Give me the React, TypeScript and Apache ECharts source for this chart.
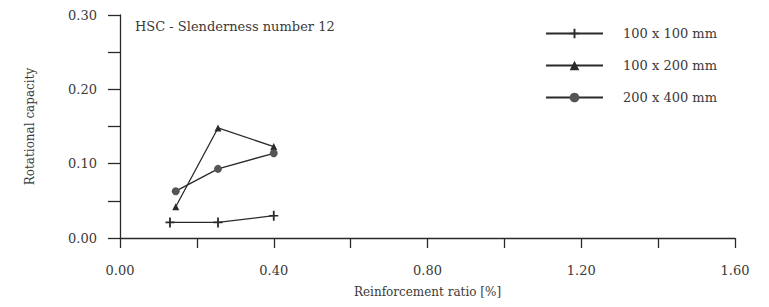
import React, { useEffect, useRef } from "react";
import * as echarts from "echarts";

const seriesNames = ["100 x 100 mm", "100 x 200 mm", "200 x 400 mm"];
const ratio100x100 = [0.13, 0.255, 0.4];
const cap100x100 = [0.021, 0.021, 0.03];
const ratio100x200 = [0.145, 0.255, 0.4];
const cap100x200 = [0.042, 0.148, 0.123];
const ratio200x400 = [0.145, 0.255, 0.4];
const cap200x400 = [0.063, 0.093, 0.114];
const chartTitle = "HSC - Slenderness number 12";
const xAxisName = "Reinforcement ratio [%]";
const yAxisName = "Rotational capacity";

const FONT = "DejaVu Serif";
const INK = "#2a2a2a";
const TXT = "#3a3a3a";
const plusPath = "path://M3.6,0h1.8v10h-1.8zM0,4.2h9v1.6h-9z";

export default function App() {
  const ref = useRef<HTMLDivElement>(null);
  useEffect(() => {
    if (!ref.current) return;
    const chart = echarts.init(ref.current, undefined, { renderer: "svg" });
    const pairs = (xs: number[], ys: number[]) => xs.map((x, i) => [x, ys[i]]);
    const lineStyle = { color: INK, width: 1.3 };
    chart.setOption({
      animation: false,
      backgroundColor: "#ffffff",
      grid: { left: 120, right: 34, top: 15, bottom: 69, containLabel: false, outerBoundsMode: "none" },
      graphic: [
        {
          type: "text",
          left: 135,
          top: 20,
          style: { text: chartTitle, fill: TXT, font: `13px '${FONT}'` },
        },
      ],
      legend: {
        orient: "vertical",
        left: 545,
        top: 27,
        padding: 0,
        itemWidth: 57,
        itemHeight: 12,
        itemGap: 19,
        data: seriesNames,
        textStyle: { fontFamily: FONT, fontSize: 13, color: TXT, padding: [0, 0, 0, 15] },
      },
      xAxis: {
        type: "value",
        min: 0,
        max: 1.6,
        interval: 0.2,
        name: xAxisName,
        nameLocation: "middle",
        nameGap: 48,
        nameTextStyle: { fontFamily: FONT, fontSize: 12, color: TXT },
        axisLine: { lineStyle: { color: INK, width: 1.3 } },
        axisTick: { length: 10, lineStyle: { color: INK, width: 1.3 } },
        axisLabel: {
          margin: 26,
          fontFamily: FONT,
          fontSize: 13,
          color: TXT,
          formatter: (v: number) => (Math.round(v * 100) % 40 === 0 ? v.toFixed(2) : ""),
        },
        splitLine: { show: false },
      },
      yAxis: {
        type: "value",
        min: 0,
        max: 0.3,
        interval: 0.05,
        name: yAxisName,
        nameLocation: "middle",
        nameGap: 84,
        nameTextStyle: { fontFamily: FONT, fontSize: 12, color: TXT },
        axisLine: { show: true, lineStyle: { color: INK, width: 1.3 } },
        axisTick: { show: true, length: 12, lineStyle: { color: INK, width: 1.3 } },
        axisLabel: {
          margin: 23,
          fontFamily: FONT,
          fontSize: 13,
          color: TXT,
          formatter: (v: number) => (Math.round(v * 100) % 10 === 0 ? v.toFixed(2) : ""),
        },
        splitLine: { show: false },
      },
      series: [
        {
          name: seriesNames[0],
          type: "line",
          data: pairs(ratio100x100, cap100x100),
          symbol: plusPath,
          symbolSize: [9, 10],
          itemStyle: { color: INK },
          lineStyle,
        },
        {
          name: seriesNames[1],
          type: "line",
          data: pairs(ratio100x200, cap100x200),
          symbol: "triangle",
          symbolSize: 7,
          itemStyle: { color: INK },
          lineStyle,
        },
        {
          name: seriesNames[2],
          type: "line",
          data: pairs(ratio200x400, cap200x400),
          symbol: "circle",
          symbolSize: 8,
          itemStyle: { color: "#555555" },
          lineStyle,
        },
      ],
    });
    return () => chart.dispose();
  }, []);
  return (
    <div
      ref={ref}
      style={{ position: "fixed", left: 0, top: 0, width: 769, height: 307, background: "#fff" }}
    />
  );
}
